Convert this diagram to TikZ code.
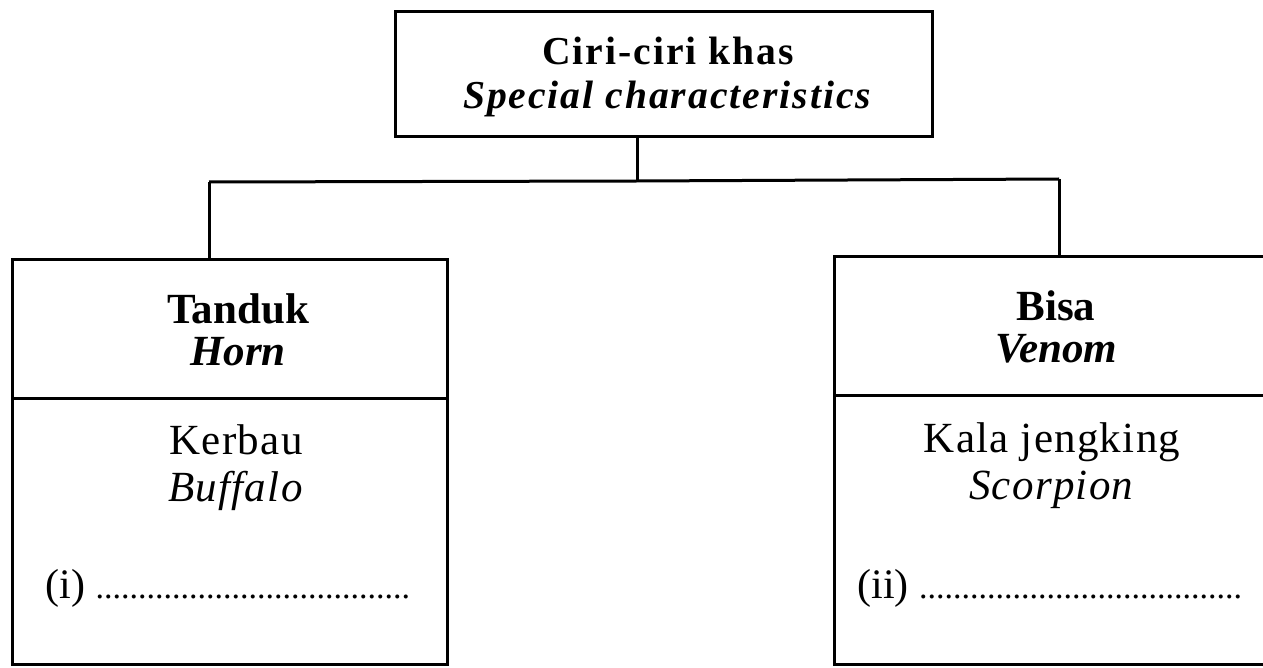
\documentclass[tikz,border=0pt]{standalone}
\usepackage{fontspec}
\setmainfont{Liberation Serif}
\begin{document}
\begin{tikzpicture}[x=0.5pt,y=-0.5pt,
  box/.style={draw=black,line width=1.5pt,rectangle,inner sep=0pt,outer sep=0pt},
  conn/.style={draw=black,line width=1.5pt},
  toptext/.style={align=center,font=\fontsize{19.8pt}{22pt}\selectfont\addfontfeature{LetterSpace=5}\bfseries},
  headtext/.style={align=center,font=\fontsize{21.5pt}{21pt}\selectfont\bfseries},
  bodytext/.style={align=center,font=\fontsize{21.5pt}{23.5pt}\selectfont\addfontfeature{LetterSpace=3}},
  blanktext/.style={anchor=base west,inner sep=0pt,font=\fontsize{21pt}{23pt}\selectfont}
]
\useasboundingbox (0,0) rectangle (1263,668);
% top box
\node[box,minimum width=268.5pt,minimum height=62.5pt] (top) at (663.5,74.5) {};
\node[toptext] (toptxt) at (668,77) {Ciri-ciri khas\\\textit{Special characteristics}};
% left boxes
\node[box,minimum width=217.5pt,minimum height=69pt] (lhead) at (229.5,329) {};
\node[headtext] (lheadtxt) at (238,330) {Tanduk\\\textit{Horn}};
\node[box,minimum width=217.5pt,minimum height=133pt] (lbody) at (229.5,531) {};
\node[bodytext] (lbodytxt) at (236,468) {Kerbau\\\textit{Buffalo}};
\node[blanktext] (lblank) at (45,598) {(i) \fontsize{17pt}{18pt}\selectfont.....................................};
% right boxes
\node[box,minimum width=220pt,minimum height=69pt] (rhead) at (1054,326) {};
\node[headtext] (rheadtxt) at (1056,327) {Bisa\\\textit{Venom}};
\node[box,minimum width=220pt,minimum height=134.5pt] (rbody) at (1054,529.5) {};
\node[bodytext] (rbodytxt) at (1052,466) {Kala jengking\\\textit{Scorpion}};
\node[blanktext] (rblank) at (857,598) {(ii) \fontsize{17pt}{18pt}\selectfont......................................};
% connectors
\coordinate (j) at (637,181);
\coordinate (jl) at (209,182);
\coordinate (jr) at (1059,179);
\draw[conn] (top.south -| j) -- (j);
\draw[conn] (jl) -- (j) -- (jr);
\draw[conn] (jl) -- (jl |- lhead.north);
\draw[conn] (jr) -- (jr |- rhead.north);
\end{tikzpicture}
\end{document}
